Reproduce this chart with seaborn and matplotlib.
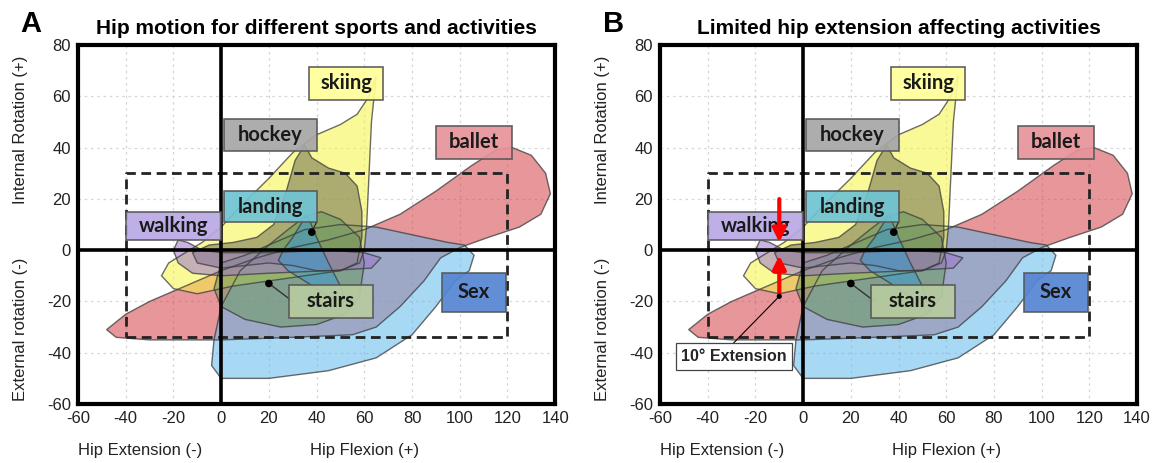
import matplotlib
matplotlib.use("Agg")
import matplotlib.pyplot as plt
import seaborn as sns
import pandas as pd
from matplotlib.patches import Rectangle

sns.set_style("white")
plt.rcParams['font.family'] = ['Liberation Sans', 'DejaVu Sans']
plt.rcParams['axes.unicode_minus'] = False

# ---- data (degrees) ----
x_ticks = [-60, -40, -20, 0, 20, 40, 60, 80, 100, 120, 140]
y_ticks = [-60, -40, -20, 0, 20, 40, 60, 80]

ballet_x = [-48, -40, -30, -20, -10, 0, 15, 30, 45, 60, 75, 90, 105, 115, 122, 130, 136, 138, 134, 125, 112, 100, 92, 85, 75, 65, 55, 30, 0, -30, -44]
ballet_y = [-31, -25, -20, -16, -12, -8, -3, 1, 4, 8, 14, 23, 33, 39, 40, 37, 30, 22, 14, 9, 5, 1, -3, -12, -22, -30, -33, -34, -35, -35, -34]

sex_x = [-3, -4, 0, 20, 45, 65, 80, 90, 98, 104, 106, 102, 95, 80, 65, 50, 35, 20, 8, 0]
sex_y = [-35, -45, -50, -50, -47, -42, -33, -22, -12, -8, -2, 2, 3, 6, 9, 10, 8, 2, -8, -22]

skiing_x = [65, 63, 62, 61, 60, 58, 50, 35, 20, 5, -10, -20, -25, -22, -15, -8, 0, 8, 20, 30, 40, 50, 57, 62]
skiing_y = [68, 50, 30, 10, 0, -5, -8, -10, -12, -14, -17, -15, -10, -5, -1, 3, 9, 17, 28, 38, 45, 49, 53, 60]

hockey_x = [35, 38, 45, 52, 57, 59, 59, 57, 50, 40, 30, 20, 10, 0, -10, -12, -5, 5, 15, 22, 27, 31]
hockey_y = [41, 36, 32, 30, 25, 15, 5, -5, -8, -8, -6, -5, -6, -7, -5, -1, 2, 3, 5, 10, 22, 35]

stairs_x = [0, -3, 0, 10, 25, 40, 52, 58, 60, 58, 50, 42, 35, 28, 20, 10]
stairs_y = [-5, -15, -22, -27, -30, -29, -25, -18, -5, 5, 12, 15, 13, 8, 2, -2]

walking_x = [-18, -14, -8, 0, 20, 45, 60, 67, 63, 45, 20, 0, -12, -18, -20]
walking_y = [4, 3, 0, -1, -1, 0, -1, -3, -7, -8, -9, -10, -9, -5, 0]

landing_x = [36, 40, 45, 50, 52, 45, 35, 28, 24, 26, 30]
landing_y = [14, 5, -5, -14, -20, -18, -12, -8, -4, 0, 5]

shapes = [
    ("ballet", ballet_x, ballet_y, "#d54047"),
    ("Sex", sex_x, sex_y, "#60b8ec"),
    ("skiing", skiing_x, skiing_y, "#f5f543"),
    ("hockey", hockey_x, hockey_y, "#6e6e50"),
    ("stairs", stairs_x, stairs_y, "#6a9a60"),
    ("walking", walking_x, walking_y, "#9b76cd"),
    ("landing", landing_x, landing_y, "#3a9ad0"),
]

label_names = ["skiing", "hockey", "ballet", "landing", "walking", "stairs", "Sex"]
label_x = [52.5, 20.5, 106, 20.5, -20, 46, 106]
label_y = [65, 45, 42, 17, 9.5, -20, -16.5]
label_w = [31, 39, 32, 39, 40, 35, 27]
label_h = [13, 12.5, 13, 12, 11, 13, 15]
label_colors = ["#ffff99", "#a6a6a6", "#e8939a", "#6fc3d3", "#b9a8e4", "#b8cba0", "#5585d3"]

dot_x = [38, 20]
dot_y = [7, -13]

ext_x = [-10]
ext_y = [-18]

box_x0, box_x1, box_y0, box_y1 = -40, 120, -34, 30


def draw_panel(ax, letter, title, limited=False):
    ax.set_xlim(-60, 140)
    ax.set_ylim(-60, 80)
    ax.set_xticks(x_ticks)
    ax.set_yticks(y_ticks)
    for v in x_ticks[1:-1]:
        ax.axvline(v, color="#d6d6d6", lw=0.9, ls=(0, (2, 3)), zorder=0)
    for v in y_ticks[1:-1]:
        ax.axhline(v, color="#d6d6d6", lw=0.9, ls=(0, (2, 3)), zorder=0)
    for name, xs, ys, col in shapes:
        ax.fill(xs, ys, facecolor=col, alpha=0.55, edgecolor="none", zorder=2)
        ax.fill(xs, ys, facecolor="none", edgecolor="#3c3c3c", lw=1.0, alpha=0.75, zorder=2.5)
    # dashed reference box
    rx = [box_x0, box_x1, box_x1, box_x0, box_x0]
    ry = [box_y0, box_y0, box_y1, box_y1, box_y0]
    sns.lineplot(x=rx, y=ry, sort=False, ax=ax, color="#222222", lw=2.0,
                 linestyle=(0, (3.5, 2)), zorder=3, estimator=None)
    # axes lines
    ax.axvline(0, color="black", lw=2.6, zorder=4)
    ax.axhline(0, color="black", lw=2.6, zorder=4)
    # leader lines
    ax.plot([40, dot_x[0]], [11, dot_y[0]], color="#333333", lw=1.0, zorder=5)
    ax.plot([dot_x[1], 30], [dot_y[1], -20], color="#333333", lw=1.0, zorder=5)
    sns.scatterplot(x=dot_x, y=dot_y, ax=ax, color="black", s=30, zorder=6, edgecolor="none")
    # label boxes
    for n, cx, cy, w, h, c in zip(label_names, label_x, label_y, label_w, label_h, label_colors):
        ax.add_patch(Rectangle((cx - w / 2, cy - h / 2), w, h, facecolor=c,
                               edgecolor="#555555", lw=1.2, alpha=0.92, zorder=5))
        ax.text(cx, cy, n, ha="center", va="center", fontsize=14.5, fontweight="bold",
                family=["Lato", "DejaVu Sans"], color="#1a1a1a", zorder=6)
    if limited:
        ax.annotate("", xy=(ext_x[0], 2), xytext=(ext_x[0], 21),
                    arrowprops=dict(arrowstyle="-|>,head_width=0.4,head_length=0.8",
                                    color="red", lw=3.0), zorder=8)
        ax.annotate("", xy=(ext_x[0], -1), xytext=(ext_x[0], ext_y[0]),
                    arrowprops=dict(arrowstyle="-|>,head_width=0.4,head_length=0.8",
                                    color="red", lw=3.0), zorder=8)
        ax.plot([ext_x[0], -30], [ext_y[0], -37], color="black", lw=0.8, zorder=7)
        sns.scatterplot(x=ext_x, y=ext_y, ax=ax, color="black", s=14, zorder=9, edgecolor="none")
        ax.text(-29, -41.5, "10° Extension", ha="center", va="center", fontsize=11.5,
                fontweight="bold", zorder=9,
                bbox=dict(boxstyle="square,pad=0.35", facecolor="white", edgecolor="#444444", lw=0.9))
    for s in ax.spines.values():
        s.set_visible(True)
        s.set_color("black")
        s.set_linewidth(3.0)
        s.set_zorder(10)
    ax.tick_params(axis="both", length=0, labelsize=12, pad=5, colors="#222222")
    ax.set_xlabel("")
    ax.set_ylabel("")
    ax.text(-34, -78, "Hip Extension (-)", ha="center", va="center", fontsize=12, color="#222222")
    ax.text(60, -78, "Hip Flexion (+)", ha="center", va="center", fontsize=12, color="#222222")
    ax.text(-84, 47, "Internal Rotation (+)", ha="center", va="center", rotation=90, fontsize=12, color="#222222")
    ax.text(-84, -31, "External rotation (-)", ha="center", va="center", rotation=90, fontsize=12, color="#222222")
    ax.set_title(title, fontsize=15, fontweight="bold", pad=8, color="black")
    ax.text(-84, 88, letter, ha="left", va="center", fontsize=21, fontweight="bold", color="black")


fig = plt.figure(figsize=(11.59, 4.63), dpi=100)
axA = fig.add_axes([0.0673, 0.1274, 0.4117, 0.7754])
axB = fig.add_axes([0.5695, 0.1274, 0.4115, 0.7754])
draw_panel(axA, "A", "Hip motion for different sports and activities")
draw_panel(axB, "B", "Limited hip extension affecting activities", limited=True)
for ax in (axA, axB):
    for t in ax.texts:
        t.set_clip_on(False)
fig.savefig("out.png", dpi=100)
